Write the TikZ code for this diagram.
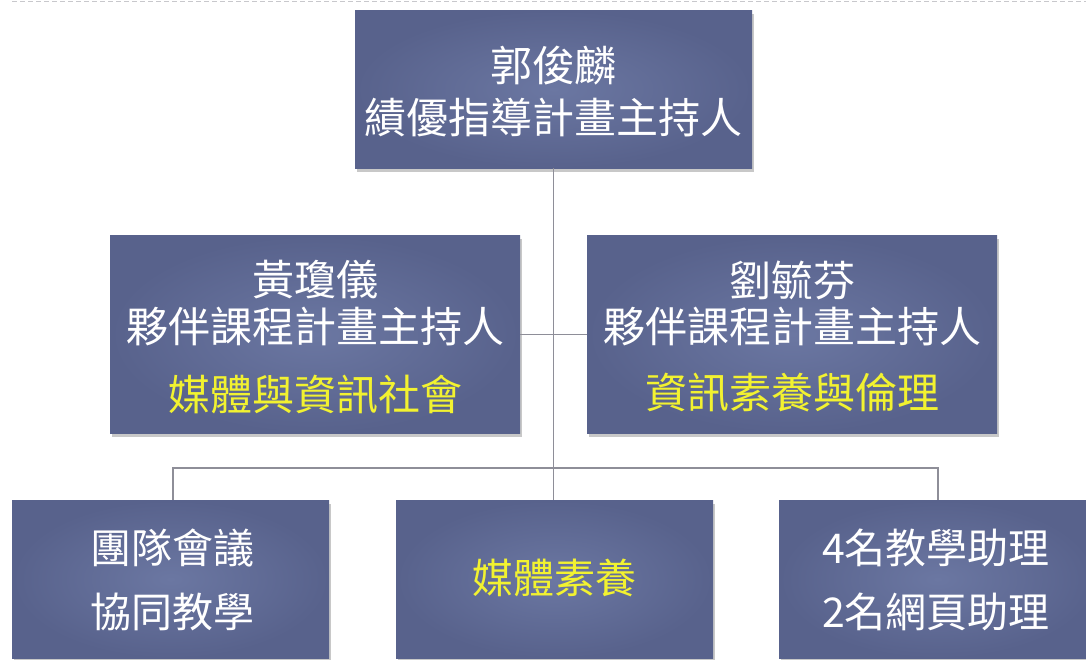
\documentclass[tikz,border=0pt]{standalone}
\usepackage{fontspec}
\newfontfamily\cjk{Noto Sans CJK TC}
\usetikzlibrary{shadows}
\definecolor{boxin}{HTML}{6B77A2}
\definecolor{boxout}{HTML}{58628C}
\definecolor{linegray}{HTML}{8E8E98}
\definecolor{ylw}{HTML}{F2F230}
\definecolor{dashgray}{HTML}{C8C8CC}
\begin{document}
\begin{tikzpicture}[x=1pt,y=-1pt,
  box/.style={draw=none, inner color=boxin, outer color=boxout,
    anchor=north west, inner sep=0pt,
    drop shadow={shadow xshift=2pt, shadow yshift=-4pt, opacity=0.3, fill=black!70}},
  conn/.style={draw=linegray, line width=1.2pt},
  wtxt/.style={text=white, font=\cjk\fontsize{42}{42}\selectfont, inner sep=0pt},
  ytxt/.style={text=ylw, font=\cjk\fontsize{42}{42}\selectfont, inner sep=0pt},
  btxt/.style={text=white, font=\cjk\fontsize{41}{41}\selectfont, inner sep=0pt}]
\useasboundingbox (0,0) rectangle (1086,660);
\fill[white] (0,0) rectangle (1086,660);
% top dashed rule
\coordinate (dl) at (12,1.5);
\coordinate (dr) at (1086,1.5);
\draw[dashgray, line width=1.2pt, dash pattern=on 5pt off 3pt] (dl) -- (dr);
% boxes
\node[box, minimum width=397pt, minimum height=158pt] (top) at (355,10) {};
\node[box, minimum width=410pt, minimum height=198pt] (ml) at (110,235) {};
\node[box, minimum width=410pt, minimum height=198pt] (mr) at (587,235) {};
\node[box, minimum width=317pt, minimum height=158pt] (bl) at (12,500) {};
\node[box, minimum width=317pt, minimum height=158pt] (bm) at (396,500) {};
\node[box, minimum width=317pt, minimum height=158pt] (br) at (779,500) {};
% connectors
\coordinate (busl) at (173,468);
\coordinate (busr) at (938,468);
\draw[conn] (top.south) -- (top.south |- bm.north);
\draw[conn] (ml.east) -- (mr.west);
\draw[conn] (busl |- bl.north) -- (busl) -- (busr) -- (busr |- br.north);
% texts
\node[wtxt] (t1) at (553,66) {郭俊麟};
\node[wtxt] (t2) at (553,118) {績優指導計畫主持人};
\node[wtxt] (l1) at (315,280) {黃瓊儀};
\node[wtxt] (l2) at (315,326) {夥伴課程計畫主持人};
\node[ytxt] (l3) at (315,395) {媒體與資訊社會};
\node[wtxt] (r1) at (792,280) {劉毓芬};
\node[wtxt] (r2) at (792,326) {夥伴課程計畫主持人};
\node[ytxt] (r3) at (792,393) {資訊素養與倫理};
\node[btxt] (b1) at (172,548) {團隊會議};
\node[btxt] (b2) at (172,612) {協同教學};
\node[ytxt, font=\cjk\fontsize{41}{41}\selectfont] (b3) at (554,578) {媒體素養};
\node[btxt] (b4) at (936,548) {4名教學助理};
\node[btxt] (b5) at (936,612) {2名網頁助理};
\end{tikzpicture}
\end{document}
